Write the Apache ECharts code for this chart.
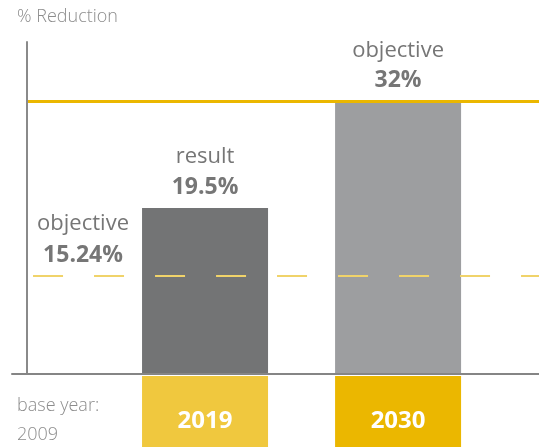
<!DOCTYPE html>
<html>
<head>
<meta charset="utf-8">
<script src="https://cdn.jsdelivr.net/npm/echarts@6/dist/echarts.min.js"></script>
<style>
  html, body { margin: 0; padding: 0; background: #fff; }
  #chart { width: 539px; height: 447px; }
</style>
</head>
<body>
<div id="chart"></div>
<script>
// data
const years = ['2019', '2030'];
const barValues = [19.5, 32];
const barCaptions = ['result', 'objective'];
const barColors = ['#737475', '#9d9ea0'];
const yearColors = ['#f0c83e', '#ebb700'];
const objective2019 = 15.24;   // label value
const objective2019Level = 11.5; // level the dashed line is drawn at in the picture
const objective2030 = 32;

const chart = echarts.init(document.getElementById('chart'));

// bars sit at x = 1, 2 on a value axis
const xMin = 0, xMax = 2.73;
const fontFamily = '"Open Sans", "Noto Sans", sans-serif';

const option = {
  animation: false,
  backgroundColor: '#fff',
  grid: [
    { left: 12, right: 0, top: 42, bottom: 73 },
    { left: 12, right: 0, top: 376, bottom: 0 }
  ],
  xAxis: [
    {
      gridIndex: 0, type: 'value', min: xMin, max: xMax,
      z: 5,
      axisLine: { show: true, lineStyle: { color: '#858585', width: 2 } },
      axisTick: { show: false }, axisLabel: { show: false }, splitLine: { show: false }
    },
    {
      gridIndex: 1, type: 'value', min: xMin, max: xMax, show: false
    }
  ],
  yAxis: [
    {
      gridIndex: 0, type: 'value', min: 0, max: 39,
      offset: -15,
      axisLine: { show: true, lineStyle: { color: '#8a8a8a', width: 2 } },
      axisTick: { show: false }, axisLabel: { show: false }, splitLine: { show: false }
    },
    {
      gridIndex: 1, type: 'value', min: 0, max: 1, show: false
    }
  ],
  graphic: [
    {
      type: 'text', left: 17, top: 8,
      style: { text: '% Reduction', fill: '#8c8c8c', font: '300 18px ' + fontFamily }
    },
    {
      type: 'text', left: 17, top: 391,
      style: { text: 'base year:\n2009', fill: '#8c8c8c', font: '300 18px ' + fontFamily, lineHeight: 29 }
    }
  ],
  series: [
    {
      type: 'bar',
      xAxisIndex: 0, yAxisIndex: 0,
      barWidth: 126,
      data: barValues.map((v, i) => ({
        value: [i + 1, v],
        itemStyle: { color: barColors[i] },
        label: {
          show: true,
          position: 'top',
          distance: 6,
          formatter: '{a|' + barCaptions[i] + '}\n{b|' + v + '%}',
          rich: {
            a: { fontFamily: fontFamily, fontSize: 22, color: '#767676', lineHeight: 30, align: 'center' },
            b: { fontFamily: fontFamily, fontSize: 23, fontWeight: 'bold', color: '#767676', lineHeight: 30, align: 'center' }
          }
        }
      })),
      markLine: {
        silent: true,
        symbol: 'none',
        data: [
          [
            { xAxis: 0.083, yAxis: objective2030, lineStyle: { color: '#ebb700', width: 3, type: 'solid' }, label: { show: false } },
            { xAxis: xMax, yAxis: objective2030 }
          ],
          [
            {
              xAxis: 0.109, yAxis: objective2019Level,
              lineStyle: { color: '#f0d36a', width: 2, type: [30, 31] },
              label: {
                show: true,
                position: 'insideStartTop',
                distance: 6,
                formatter: '{a|objective}\n{b|' + objective2019 + '%}',
                rich: {
                  a: { fontFamily: fontFamily, fontSize: 22, color: '#767676', lineHeight: 32, width: 88, align: 'center' },
                  b: { fontFamily: fontFamily, fontSize: 23, fontWeight: 'bold', color: '#767676', lineHeight: 30, width: 88, align: 'center' }
                }
              }
            },
            { xAxis: xMax, yAxis: objective2019Level }
          ]
        ]
      }
    },
    {
      type: 'bar',
      xAxisIndex: 1, yAxisIndex: 1,
      barWidth: 126,
      data: years.map((y, i) => ({
        value: [i + 1, 1],
        itemStyle: { color: yearColors[i] },
        label: {
          show: true,
          position: 'inside',
          offset: [0, 10],
          formatter: y,
          color: '#fff',
          fontFamily: fontFamily,
          fontSize: 24,
          fontWeight: 'bold'
        }
      }))
    }
  ]
};

chart.setOption(option);
</script>
</body>
</html>
